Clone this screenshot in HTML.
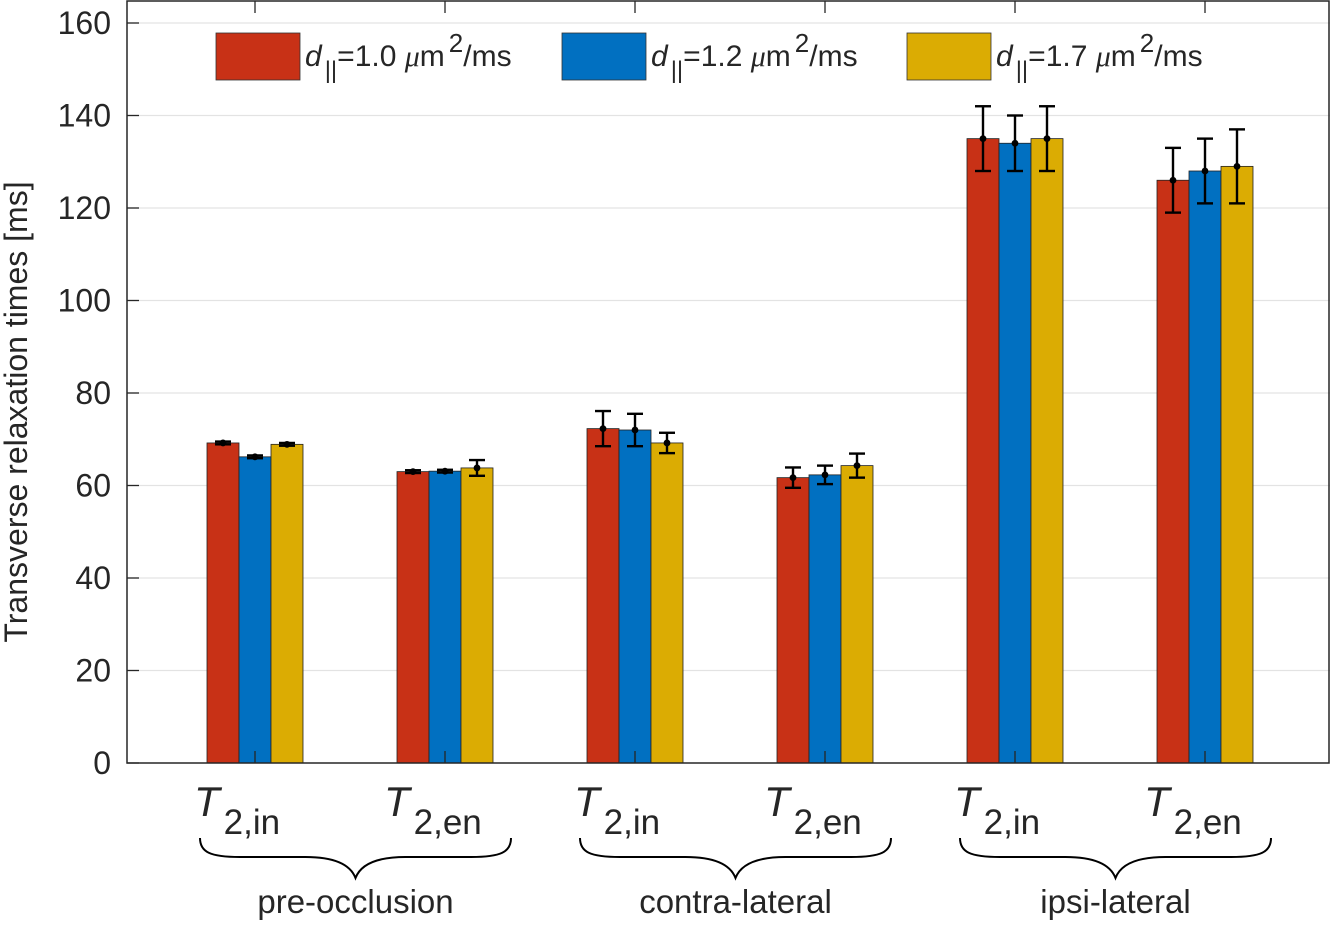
<!DOCTYPE html>
<html><head><meta charset="utf-8"><style>
html,body{margin:0;padding:0;background:#fff;}
svg text{font-family:"Liberation Sans",sans-serif;fill:#262626;}
</style></head><body>
<svg id="chart" width="1331" height="921" viewBox="0 0 1331 921" xmlns="http://www.w3.org/2000/svg">
<g id="grid"></g>
<g id="bars"></g>
<g id="errs"></g>
<g id="axes"></g>
<text transform="translate(27,412) rotate(-90)" text-anchor="middle" font-size="32">Transverse relaxation times [ms]</text>
<g id="legend"></g>
<g id="xlabels"></g>
</svg>
<script>
const categories = ["T2,in","T2,en","T2,in","T2,en","T2,in","T2,en"];
const groups = ["pre-occlusion","contra-lateral","ipsi-lateral"];
const seriesNames = ["1.0","1.2","1.7"];
const s1 = [69.2, 63.0, 72.3, 61.7, 135, 126];
const s2 = [66.2, 63.1, 72.0, 62.3, 134, 128];
const s3 = [68.9, 63.8, 69.2, 64.3, 135, 129];
const e1 = [0.3, 0.3, 3.8, 2.2, 7, 7];
const e2 = [0.3, 0.3, 3.5, 2.0, 6, 7];
const e3 = [0.3, 1.7, 2.2, 2.6, 7, 8];
const yTicks = [0,20,40,60,80,100,120,140,160];

const colors = ["#c83116","#0170c1","#dbac03"];
const NS="http://www.w3.org/2000/svg";
const L=127,R=1330,T=1,B=763;
const xS=i=>255+190*i;
const yS=v=>763-v*4.625;
function mk(tag,attrs,parent){const e=document.createElementNS(NS,tag);for(const k in attrs)e.setAttribute(k,attrs[k]);parent.appendChild(e);return e;}
const grid=document.getElementById('grid'),bars=document.getElementById('bars'),errs=document.getElementById('errs'),axes=document.getElementById('axes'),leg=document.getElementById('legend'),xl=document.getElementById('xlabels');
yTicks.forEach(v=>{
  const y=yS(v);
  if(v>0){const g=mk('line',{x1:L,x2:R,y1:y,y2:y,stroke:'#e3e3e3','stroke-width':1.2},grid);
  
  }
  const t=mk('line',{x1:L,x2:L+12,y1:y,y2:y,stroke:'#262626','stroke-width':1.3},axes);
  
  
  const tx=mk('text',{x:L-16,y:y+11,'text-anchor':'end','font-size':32},axes);
  tx.textContent=v;
  
  
});
const series=[s1,s2,s3],errors=[e1,e2,e3];
categories.forEach((c,i)=>{
  series.forEach((s,k)=>{
    const cx=xS(i)+(k-1)*32;
    const r=mk('rect',{x:cx-16,y:yS(s[i]),width:32,height:yS(0)-yS(s[i]),fill:colors[k],stroke:'#222','stroke-width':0.8},bars);
    
    
    const e=errors[k][i],y1=yS(s[i]+e),y2=yS(s[i]-e);
    const g=mk('g',{stroke:'#000','stroke-width':2.4},errs);
    
    
    mk('line',{x1:cx,x2:cx,y1:y1,y2:y2},g);
    mk('line',{x1:cx-8,x2:cx+8,y1:y1,y2:y1},g);
    mk('line',{x1:cx-8,x2:cx+8,y1:y2,y2:y2},g);
    mk('circle',{cx:cx,cy:yS(s[i]),r:3.4,fill:'#000',stroke:'none'},g);
  });
  const x=xS(i);
  mk('line',{x1:x,x2:x,y1:T,y2:T+12,stroke:'#262626','stroke-width':1.3},axes);
  mk('line',{x1:x,x2:x,y1:B,y2:B-12,stroke:'#262626','stroke-width':1.3},axes);
  const lt=mk('text',{x:x-61,y:816,'font-size':42},xl);
  lt.innerHTML='<tspan font-style="italic">T</tspan><tspan dy="18" dx="4" font-size="35">'+c.slice(1)+'</tspan>';
  
  
});
groups.forEach((g,j)=>{
  const a=xS(2*j)-55,b=xS(2*j+1)+66,m=(a+b)/2;
  const p=mk('path',{d:`M${a},838 C${a},852 ${a+10},857 ${a+40},857 L${m-50},857 C${m-20},857 ${m-5},865 ${m},878 C${m+5},865 ${m+20},857 ${m+50},857 L${b-40},857 C${b-10},857 ${b},852 ${b},838`,fill:'none',stroke:'#000','stroke-width':2},xl);
  
  
  const t=mk('text',{x:m,y:913,'text-anchor':'middle','font-size':33},xl);
  t.textContent=g;
  
  
});
const box=mk('rect',{x:L,y:T,width:R-L-1,height:B-T,fill:'none',stroke:'#262626','stroke-width':1.5},axes);


const legX=[216,562,907];
seriesNames.forEach((n,k)=>{
  const r=mk('rect',{x:legX[k],y:33,width:84,height:47,fill:colors[k],stroke:'#333','stroke-width':0.8},leg);
  
  
  const t=mk('text',{x:legX[k]+89,y:66,'font-size':30},leg);
  t.innerHTML='<tspan font-style="italic">d</tspan><tspan dy="12" dx="3" font-size="24">||</tspan><tspan dy="-12">=</tspan>'+n+' <tspan font-family="Liberation Serif" font-style="italic">μ</tspan>m<tspan dy="-14" dx="4" font-size="26">2</tspan><tspan dy="14">/ms</tspan>';
  
  
});
</script>
</body></html>
